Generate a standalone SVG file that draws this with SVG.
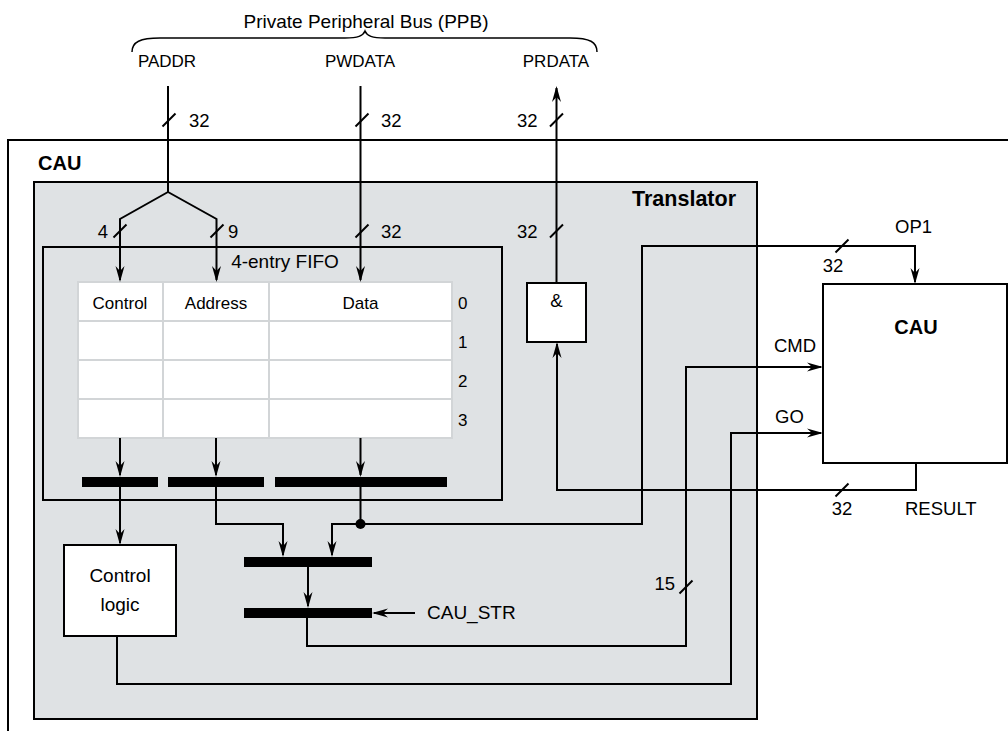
<svg xmlns="http://www.w3.org/2000/svg" width="1008" height="731" viewBox="0 0 1008 731">
<defs>
<style>
.t{font-family:"Liberation Sans",Arial,sans-serif;font-size:18.5px;fill:#000}
.s{font-size:17px}
.b{font-family:"Liberation Sans",Arial,sans-serif;font-size:20px;font-weight:bold;fill:#000}
.m{text-anchor:middle}
.e{text-anchor:end}
.ln{fill:none;stroke:#000;stroke-width:2}
.box{fill:#fff;stroke:#000;stroke-width:2}
.cell{fill:#fff;stroke:#d2d5d7;stroke-width:2}
.bar{fill:#000}
.arr{marker-end:url(#ah)}
</style>
<marker id="ah" viewBox="0 0 16 10" refX="14" refY="5" markerWidth="16" markerHeight="10" markerUnits="userSpaceOnUse" orient="auto">
<path d="M0,0.5 L16,5 L0,9.5 L5,5 z" fill="#000"/>
</marker>
</defs>
<rect width="1008" height="731" fill="#fff"/>

<g id="bus-label">
<text class="t m" x="366" y="28" style="font-size:19px">Private Peripheral Bus (PPB)</text>
<path class="ln" style="stroke-width:1.5" d="M132,52 C132,42 140,38 160,38 L345,38 C358,38 363,36 365,31 C367,36 372,38 385,38 L570,38 C590,38 597,42 597,52"/>
<text class="t s m" x="167" y="67">PADDR</text>
<text class="t s m" x="360" y="67">PWDATA</text>
<text class="t s m" x="556" y="67">PRDATA</text>
</g>

<g id="cau-outer">
<path class="ln" d="M1008,140 H8 V731"/>
<text class="b" x="38" y="170">CAU</text>
</g>

<g id="translator">
<rect x="34" y="182" width="723" height="537" fill="#dfe2e4" stroke="#000" stroke-width="2"/>
<text class="b e" x="736" y="206" style="font-size:21.5px">Translator</text>
</g>

<g id="fifo">
<rect x="43" y="247" width="459" height="253" fill="none" stroke="#000" stroke-width="2"/>
<text class="t m" x="285" y="268" style="font-size:19px">4-entry FIFO</text>
<g id="fifo-table">
<rect class="cell" x="78" y="282" width="85" height="39"/>
<rect class="cell" x="163" y="282" width="106" height="39"/>
<rect class="cell" x="269" y="282" width="183" height="39"/>
<rect class="cell" x="78" y="321" width="85" height="39"/>
<rect class="cell" x="163" y="321" width="106" height="39"/>
<rect class="cell" x="269" y="321" width="183" height="39"/>
<rect class="cell" x="78" y="360" width="85" height="39"/>
<rect class="cell" x="163" y="360" width="106" height="39"/>
<rect class="cell" x="269" y="360" width="183" height="39"/>
<rect class="cell" x="78" y="399" width="85" height="39"/>
<rect class="cell" x="163" y="399" width="106" height="39"/>
<rect class="cell" x="269" y="399" width="183" height="39"/>
<text class="t s m" x="120" y="309">Control</text>
<text class="t s m" x="216" y="309">Address</text>
<text class="t s m" x="360.5" y="309">Data</text>
<text class="t s" x="458" y="309">0</text>
<text class="t s" x="458" y="348">1</text>
<text class="t s" x="458" y="387">2</text>
<text class="t s" x="458" y="426">3</text>
</g>
<rect id="bar-control" class="bar" x="82" y="477" width="76" height="10"/>
<rect id="bar-address" class="bar" x="168" y="477" width="96" height="10"/>
<rect id="bar-data" class="bar" x="275" y="477" width="172" height="10"/>
</g>

<g id="mux-bar-a"><rect class="bar" x="244" y="557" width="128" height="10"/></g>
<g id="mux-bar-b"><rect class="bar" x="244" y="608" width="128" height="10"/></g>

<g id="control-logic">
<rect class="box" x="64" y="545" width="112" height="91"/>
<text class="t m" x="120" y="582" style="font-size:19px">Control</text>
<text class="t m" x="120" y="611" style="font-size:19px">logic</text>
</g>

<g id="and-box">
<rect class="box" x="527" y="283" width="59" height="59"/>
<text class="t m" x="556.5" y="307">&amp;</text>
</g>

<g id="cau-core">
<rect class="box" x="823" y="284" width="184" height="179"/>
<text class="b m" x="916" y="334">CAU</text>
</g>

<g id="connectors">
<path class="ln" d="M168,86 V192"/>
<path class="ln arr" d="M168,192 L120,219 V280"/>
<path class="ln arr" d="M168,192 L216.5,219 V280"/>
<path class="ln arr" d="M360.5,86 V280"/>
<path class="ln arr" d="M556.5,283 V88"/>
<path class="ln arr" d="M120,438 V475"/>
<path class="ln arr" d="M216,438 V475"/>
<path class="ln arr" d="M360.5,438 V475"/>
<path class="ln arr" d="M120,487 V543"/>
<path class="ln arr" d="M216,487 V524 H283 V555"/>
<path class="ln" d="M360.5,487 V524"/>
<path class="ln arr" d="M360.5,524 H332 V555"/>
<path class="ln arr" d="M360.5,524 H642 V246 H915 V282"/>
<circle cx="360.5" cy="524" r="5" fill="#000"/>
<path class="ln arr" d="M308,567 V606"/>
<path class="ln arr" d="M415,613 H374"/>
<path class="ln arr" d="M307,618 V646 H686 V367 H821"/>
<path class="ln arr" d="M117,636 V684 H731 V433 H821"/>
<path class="ln arr" d="M916,463 V490 H557 V344"/>
<g id="bus-width-marks" class="ln">
<path d="M162.5,126.5 L175.5,113.5"/>
<path d="M355.5,126.5 L368.5,113.5"/>
<path d="M550,126.5 L563,113.5"/>
<path d="M113.5,237.5 L126.5,224.5"/>
<path d="M210.5,237.5 L223.5,224.5"/>
<path d="M355.5,237.5 L368.5,224.5"/>
<path d="M550,237.5 L563,224.5"/>
<path d="M835.5,252.5 L848.5,239.5"/>
<path d="M835.5,496.5 L848.5,483.5"/>
<path d="M679.5,593.5 L692.5,580.5"/>
</g>
<text class="t" x="189" y="127">32</text>
<text class="t" x="381" y="127">32</text>
<text class="t" x="517" y="127">32</text>
<text class="t m" x="103" y="238">4</text>
<text class="t" x="228" y="238">9</text>
<text class="t" x="381" y="238">32</text>
<text class="t" x="517" y="238">32</text>
<text class="t m" x="833" y="272">32</text>
<text class="t" x="895" y="233">OP1</text>
<text class="t" x="774" y="352">CMD</text>
<text class="t" x="775" y="423">GO</text>
<text class="t m" x="842" y="515">32</text>
<text class="t" x="905" y="515">RESULT</text>
<text class="t" x="427" y="619" style="font-size:19px">CAU_STR</text>
<text class="t e" x="675" y="590">15</text>
</g>
</svg>
